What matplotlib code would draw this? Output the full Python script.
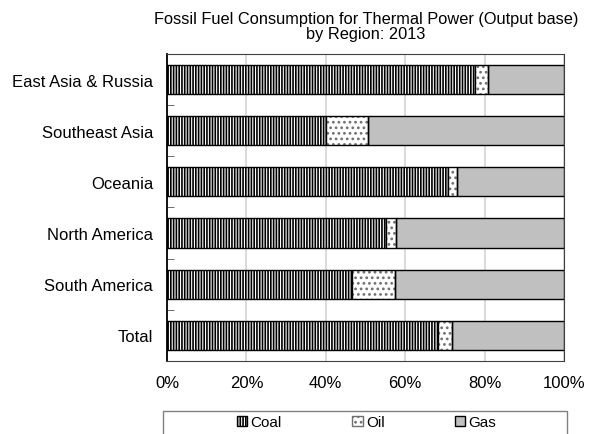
import numpy as np
import matplotlib
matplotlib.use('Agg')
import matplotlib.pyplot as plt
from matplotlib.patches import Rectangle

plt.rcParams['font.family'] = ['Liberation Sans', 'DejaVu Sans']
plt.rcParams['hatch.linewidth'] = 1.2

# data (shares in %)
regions = ['East Asia & Russia', 'Southeast Asia', 'Oceania',
           'North America', 'South America', 'Total']
coal = [77.6, 40.1, 70.7, 55.2, 46.6, 68.2]
oil = [3.3, 10.6, 2.3, 2.5, 10.9, 3.7]
gas = [19.1, 49.3, 27.0, 42.3, 42.5, 28.1]
xticks = [0, 20, 40, 60, 80, 100]
xticklabels = ['0%', '20%', '40%', '60%', '80%', '100%']

fig = plt.figure(figsize=(5.93, 4.35), dpi=100)
ax = fig.add_axes([0.2816, 0.1678, 0.6695, 0.7058])

y = np.arange(len(regions))
coal = np.array(coal)
oil = np.array(oil)
gas = np.array(gas)

ax.barh(y, coal, height=0.57, color='white', edgecolor='black',
        hatch='||||||', linewidth=1.0, label='Coal', zorder=2)
# oil: light grey dots, black outline drawn on top
ax.barh(y, oil, left=coal, height=0.57, color='white', edgecolor='#707070',
        hatch='...', linewidth=0, label='Oil', zorder=2)
ax.barh(y, oil, left=coal, height=0.57, fill=False, edgecolor='black',
        linewidth=1.0, zorder=3)
ax.barh(y, gas, left=coal + oil, height=0.57, color='#C0C0C0',
        edgecolor='black', linewidth=1.0, label='Gas', zorder=2)

ax.set_xlim(0, 100)
ax.set_ylim(len(regions) - 0.5, -0.5)
ax.set_xticks(xticks)
ax.set_xticklabels(xticklabels, fontsize=12)
ax.set_yticks(y)
ax.set_yticklabels(regions, fontsize=12)
ax.set_yticks(np.arange(len(regions) + 1) - 0.5, minor=True)
ax.tick_params(axis='y', which='major', length=0, pad=10)
ax.tick_params(axis='y', which='minor', direction='in', length=5, color='#555555')
ax.tick_params(axis='x', length=0, pad=10)

ax.grid(axis='x', color='#D4D4D4', linewidth=1.2, zorder=0)
ax.set_axisbelow(True)
for s in ['top', 'right', 'bottom']:
    ax.spines[s].set_color('#404040')
ax.spines['left'].set_color('black')
ax.spines['left'].set_linewidth(1.3)

fig.text(0.617, 0.938, 'Fossil Fuel Consumption for Thermal Power (Output base)\nby Region: 2013',
         ha='center', va='center', fontsize=11.8, linespacing=1.05)

# legend box (runs off the bottom edge like the original)
fig.patches.append(Rectangle((163 / 593, -0.05), 404 / 593, 0.05 + 23 / 435,
                             transform=fig.transFigure, facecolor='white',
                             edgecolor='#808080', linewidth=1.0))
leg = fig.legend(loc='center', bbox_to_anchor=(0.618, 0.027),
                 ncol=3, fontsize=11, handlelength=0.7, handleheight=0.7,
                 handletextpad=0.2, columnspacing=4.6, borderaxespad=0,
                 frameon=False)
leg.legend_handles[1].set_linewidth(1.0)

fig.savefig('out.png', dpi=100)
